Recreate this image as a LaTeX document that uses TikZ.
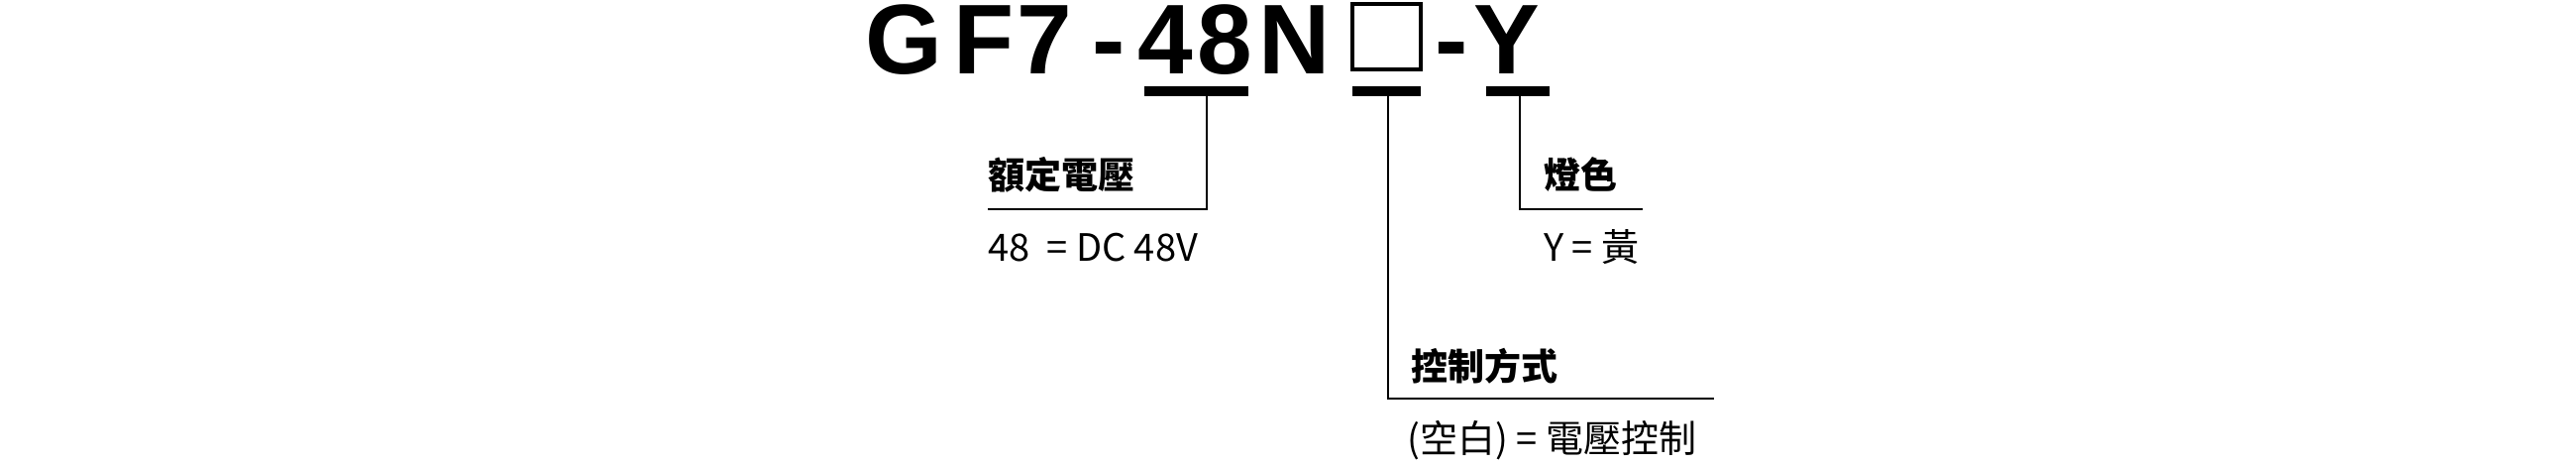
\documentclass[tikz,border=0pt]{standalone}
\usepackage{fontspec}
\setmainfont{Liberation Sans}
\newfontfamily\cjk{Noto Sans CJK TC}
\begin{document}
\begin{tikzpicture}[x=1pt,y=-1pt,
  ch/.style={anchor=base west,inner sep=0pt,font=\fontsize{100}{100}\selectfont\bfseries},
  hd/.style={anchor=base west,inner sep=0pt,font=\cjk\fontsize{37}{40}\selectfont\bfseries},
  vl/.style={anchor=base west,inner sep=0pt,font=\cjk\fontsize{38}{40}\selectfont},
  bar/.style={fill=black,draw=none},
  ln/.style={line width=2pt}]
\useasboundingbox (0,0) rectangle (2600,470);
\node[ch] (g) at (873,75) {G};
\node[ch] (f) at (962,75) {F};
\node[ch] (s) at (1026,75) {7};
\node[ch] (d1) at (1102,75) {-};
\node[ch] (c4) at (1148,75) {4};
\node[ch] (c8) at (1208,75) {8};
\node[ch] (n) at (1270,75) {N};
\draw[line width=4pt] (1365,4) rectangle (1434,70);
\node[ch] (d2) at (1448,75) {-};
\node[ch] (y) at (1487,75) {Y};
\fill[bar] (1155,87) rectangle (1260,97);
\fill[bar] (1365,87) rectangle (1434,97);
\fill[bar] (1500,87) rectangle (1564,97);
\coordinate (v1) at (1218,97);
\coordinate (v2) at (1401,97);
\coordinate (v3) at (1534,97);
\coordinate (e1) at (997,211);
\coordinate (e2) at (1730,402);
\coordinate (e3) at (1658,211);
\draw[ln] (v1) |- (e1);
\draw[ln] (v2) |- (e2);
\draw[ln] (v3) |- (e3);
\node[hd] (h1) at (997,191) {額定電壓};
\node[vl] (t1) at (997,264) {48\ \ = DC 48V};
\node[hd] (h3) at (1558,191) {燈色};
\node[vl] (t3) at (1558,264) {Y = 黃};
\node[hd] (h2) at (1424,383) {控制方式};
\node[vl] (t2) at (1420,456) {(空白) = 電壓控制};
\end{tikzpicture}
\end{document}
